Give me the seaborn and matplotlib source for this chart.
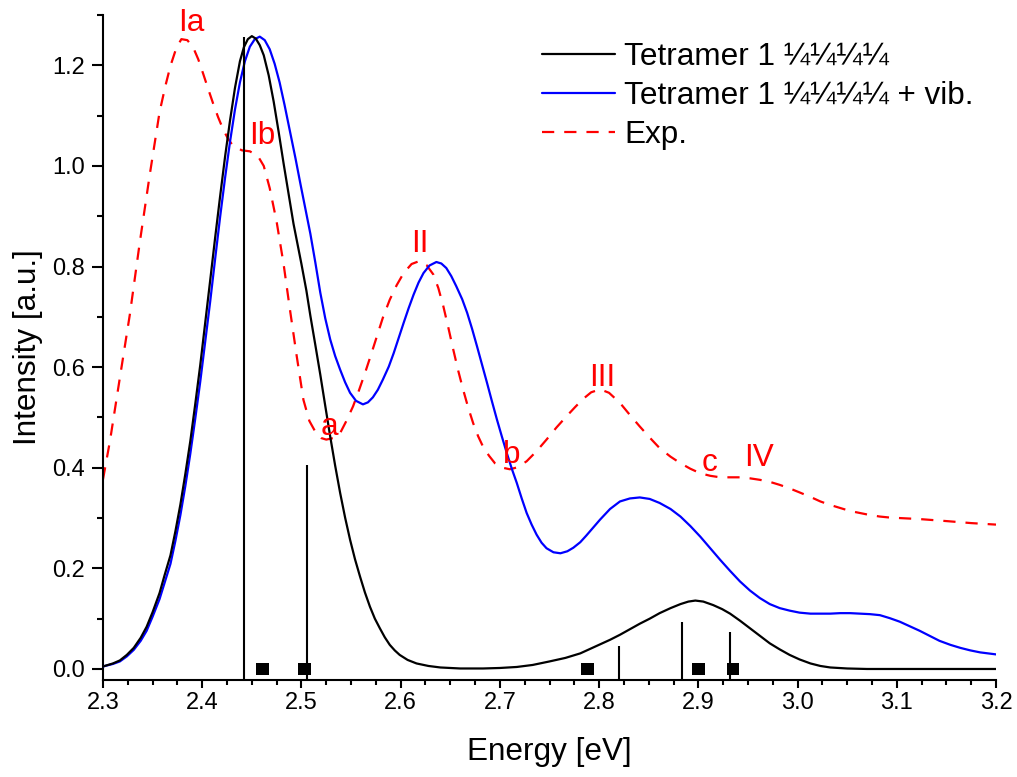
import matplotlib
matplotlib.use("Agg")
import matplotlib.pyplot as plt
import seaborn as sns
import pandas as pd
from matplotlib.ticker import MultipleLocator, FormatStrFormatter

# ---------------- data ----------------
calc_x = [2.300, 2.310, 2.317, 2.324, 2.331, 2.338, 2.344, 2.350, 2.357, 2.362,
          2.368, 2.373, 2.378, 2.383, 2.388, 2.393, 2.398, 2.403, 2.408, 2.413,
          2.418, 2.423, 2.428, 2.433, 2.438, 2.442, 2.446, 2.450, 2.454, 2.458,
          2.462, 2.467, 2.472, 2.477, 2.482, 2.487, 2.492, 2.496, 2.500, 2.505,
          2.509, 2.514, 2.519, 2.524, 2.529, 2.534, 2.539, 2.544, 2.549, 2.554,
          2.559, 2.564, 2.569, 2.574, 2.579, 2.584, 2.589, 2.594, 2.599, 2.607,
          2.616, 2.628, 2.640, 2.660, 2.683, 2.700, 2.717, 2.733, 2.750, 2.766,
          2.781, 2.791, 2.801, 2.811, 2.821, 2.831, 2.841, 2.851, 2.861, 2.872,
          2.882, 2.890, 2.897, 2.905, 2.915, 2.924, 2.932, 2.942, 2.952, 2.962,
          2.972, 2.982, 2.992, 3.002, 3.013, 3.023, 3.033, 3.050, 3.070, 3.100,
          3.200]
calc_y = [0.005, 0.011, 0.017, 0.028, 0.042, 0.062, 0.084, 0.113, 0.151, 0.186,
          0.226, 0.274, 0.327, 0.388, 0.453, 0.527, 0.604, 0.688, 0.772, 0.857,
          0.939, 1.018, 1.090, 1.155, 1.208, 1.236, 1.252, 1.258, 1.253, 1.240,
          1.220, 1.180, 1.128, 1.068, 1.005, 0.945, 0.885, 0.845, 0.805, 0.752,
          0.702, 0.644, 0.585, 0.523, 0.462, 0.404, 0.350, 0.301, 0.257, 0.218,
          0.184, 0.152, 0.124, 0.100, 0.081, 0.063, 0.048, 0.037, 0.028, 0.018,
          0.011, 0.006, 0.003, 0.001, 0.001, 0.002, 0.004, 0.008, 0.015, 0.022,
          0.031, 0.040, 0.049, 0.058, 0.068, 0.079, 0.090, 0.100, 0.111, 0.121,
          0.129, 0.134, 0.136, 0.134, 0.127, 0.119, 0.110, 0.096, 0.081, 0.066,
          0.051, 0.039, 0.028, 0.019, 0.011, 0.006, 0.003, 0.001, 0.000, 0.000,
          0.000]

vib_x = [2.300, 2.310, 2.317, 2.324, 2.331, 2.338, 2.344, 2.350, 2.357, 2.362,
         2.368, 2.373, 2.378, 2.383, 2.388, 2.393, 2.398, 2.403, 2.408, 2.413,
         2.418, 2.423, 2.428, 2.433, 2.438, 2.443, 2.448, 2.453, 2.458, 2.463,
         2.468, 2.473, 2.478, 2.483, 2.488, 2.494, 2.499, 2.504, 2.509, 2.514,
         2.519, 2.524, 2.529, 2.534, 2.539, 2.544, 2.549, 2.555, 2.562, 2.567,
         2.572, 2.577, 2.582, 2.588, 2.593, 2.598, 2.603, 2.608, 2.613, 2.618,
         2.623, 2.629, 2.636, 2.641, 2.646, 2.651, 2.656, 2.662, 2.667, 2.672,
         2.677, 2.682, 2.687, 2.692, 2.697, 2.702, 2.707, 2.712, 2.717, 2.722,
         2.727, 2.732, 2.737, 2.742, 2.747, 2.754, 2.761, 2.768, 2.774, 2.781,
         2.787, 2.794, 2.801, 2.811, 2.821, 2.831, 2.841, 2.851, 2.861, 2.872,
         2.882, 2.892, 2.902, 2.912, 2.922, 2.932, 2.942, 2.952, 2.962, 2.972,
         2.982, 2.992, 3.002, 3.013, 3.023, 3.033, 3.043, 3.053, 3.063, 3.073,
         3.083, 3.093, 3.103, 3.113, 3.123, 3.133, 3.143, 3.154, 3.164, 3.174,
         3.184, 3.192, 3.200]
vib_y = [0.005, 0.010, 0.015, 0.025, 0.038, 0.056, 0.076, 0.104, 0.139, 0.171,
         0.209, 0.255, 0.306, 0.364, 0.428, 0.498, 0.571, 0.650, 0.730, 0.815,
         0.898, 0.976, 1.048, 1.112, 1.166, 1.208, 1.237, 1.252, 1.257, 1.250,
         1.232, 1.203, 1.166, 1.121, 1.073, 1.015, 0.964, 0.915, 0.865, 0.808,
         0.748, 0.697, 0.655, 0.622, 0.595, 0.570, 0.549, 0.533, 0.526, 0.530,
         0.540, 0.555, 0.575, 0.601, 0.628, 0.658, 0.688, 0.717, 0.744, 0.768,
         0.787, 0.802, 0.809, 0.806, 0.797, 0.781, 0.761, 0.735, 0.708, 0.676,
         0.641, 0.605, 0.569, 0.532, 0.496, 0.462, 0.429, 0.398, 0.370, 0.339,
         0.310, 0.287, 0.267, 0.251, 0.240, 0.232, 0.230, 0.234, 0.241, 0.252,
         0.265, 0.281, 0.297, 0.318, 0.333, 0.339, 0.341, 0.338, 0.330, 0.318,
         0.303, 0.284, 0.263, 0.240, 0.217, 0.195, 0.174, 0.156, 0.141, 0.129,
         0.121, 0.116, 0.112, 0.110, 0.110, 0.110, 0.111, 0.111, 0.110, 0.109,
         0.107, 0.101, 0.094, 0.085, 0.076, 0.066, 0.056, 0.048, 0.042, 0.037,
         0.033, 0.031, 0.029]

exp_x = [2.300, 2.307, 2.317, 2.327, 2.337, 2.347, 2.357, 2.363, 2.368, 2.374,
         2.379, 2.385, 2.391, 2.396, 2.401, 2.406, 2.411, 2.416, 2.421, 2.426,
         2.431, 2.440, 2.448, 2.456, 2.462, 2.468, 2.475, 2.482, 2.488, 2.495,
         2.502, 2.508, 2.515, 2.520, 2.525, 2.532, 2.539, 2.545, 2.552, 2.558,
         2.564, 2.570, 2.576, 2.582, 2.589, 2.596, 2.603, 2.611, 2.619, 2.626,
         2.633, 2.638, 2.643, 2.648, 2.653, 2.658, 2.663, 2.668, 2.673, 2.678,
         2.683, 2.689, 2.695, 2.703, 2.710, 2.718, 2.727, 2.737, 2.747, 2.757,
         2.767, 2.776, 2.784, 2.792, 2.801, 2.810, 2.821, 2.831, 2.841, 2.851,
         2.861, 2.872, 2.882, 2.892, 2.902, 2.912, 2.922, 2.932, 2.942, 2.952,
         2.962, 2.972, 2.982, 2.992, 3.002, 3.013, 3.023, 3.033, 3.043, 3.053,
         3.063, 3.073, 3.083, 3.093, 3.103, 3.123, 3.150, 3.175, 3.200]
exp_y = [0.377, 0.453, 0.579, 0.704, 0.847, 0.981, 1.107, 1.160, 1.199, 1.235,
         1.252, 1.250, 1.235, 1.212, 1.183, 1.153, 1.124, 1.097, 1.073, 1.054,
         1.040, 1.031, 1.029, 1.020, 1.000, 0.956, 0.889, 0.805, 0.720, 0.625,
         0.535, 0.493, 0.468, 0.459, 0.456, 0.459, 0.469, 0.492, 0.522, 0.554,
         0.588, 0.624, 0.661, 0.698, 0.734, 0.763, 0.787, 0.805, 0.811, 0.803,
         0.784, 0.757, 0.721, 0.679, 0.635, 0.593, 0.555, 0.520, 0.489, 0.463,
         0.442, 0.424, 0.409, 0.400, 0.397, 0.401, 0.413, 0.433, 0.456, 0.480,
         0.502, 0.521, 0.537, 0.550, 0.556, 0.549, 0.529, 0.505, 0.482, 0.460,
         0.439, 0.422, 0.409, 0.398, 0.389, 0.384, 0.381, 0.381, 0.381, 0.379,
         0.376, 0.372, 0.366, 0.359, 0.351, 0.342, 0.333, 0.326, 0.320, 0.314,
         0.310, 0.306, 0.303, 0.301, 0.300, 0.298, 0.294, 0.290, 0.287]

stick_x = [2.442, 2.506, 2.820, 2.884, 2.932]
stick_h = [1.256, 0.406, 0.046, 0.094, 0.074]

square_x = [2.461, 2.503, 2.788, 2.900, 2.935]
square_y = [0.0, 0.0, 0.0, 0.0, 0.0]

labels = ["Ia", "Ib", "a", "II", "b", "III", "c", "IV"]
label_x = [2.389, 2.461, 2.528, 2.619, 2.712, 2.803, 2.911, 2.961]
label_y = [1.268, 1.043, 0.466, 0.828, 0.410, 0.562, 0.393, 0.403]

series_names = ["Tetramer 1 \u00bc\u00bc\u00bc\u00bc",
                "Tetramer 1 \u00bc\u00bc\u00bc\u00bc + vib.",
                "Exp."]

# ---------------- figure ----------------
sns.set_style("ticks")
plt.rcParams['font.family'] = ['Liberation Sans', 'DejaVu Sans']
plt.rcParams.update({
    'axes.linewidth': 1.5,
    'text.color': 'black',
    'axes.labelcolor': 'black',
    'axes.edgecolor': 'black',
    'xtick.color': 'black',
    'ytick.color': 'black',
})

fig = plt.figure(figsize=(10.17, 7.77), dpi=100)
ax = fig.add_axes([103 / 1017, 97 / 777, 893 / 1017, 665 / 777])

df_calc = pd.DataFrame({"Energy": calc_x, "Intensity": calc_y})
df_vib = pd.DataFrame({"Energy": vib_x, "Intensity": vib_y})
df_exp = pd.DataFrame({"Energy": exp_x, "Intensity": exp_y})

sns.lineplot(data=df_calc, x="Energy", y="Intensity", color="black", lw=1.6,
             sort=False, ax=ax, label=series_names[0], zorder=4)
sns.lineplot(data=df_vib, x="Energy", y="Intensity", color="#0000ff", lw=1.6,
             sort=False, ax=ax, label=series_names[1], zorder=3)
sns.lineplot(data=df_exp, x="Energy", y="Intensity", color="#ff0000", lw=1.6,
             sort=False, ax=ax, label=series_names[2], zorder=2, linestyle="--")
ax.lines[-1].set_dashes((5.5, 4.5))

ax.vlines(stick_x, -0.05, stick_h, color="black", lw=1.5, zorder=5)
sns.scatterplot(x=square_x, y=square_y, marker="s", s=85, color="black",
                edgecolor="none", ax=ax, zorder=6, legend=False)

for t, x, y in zip(labels, label_x, label_y):
    ax.text(x, y, t, color="#ff0000", fontsize=22.7, ha="center", va="baseline",
            clip_on=False, zorder=7)

ax.set_xlim(2.3, 3.2)
ax.set_ylim(-0.0219, 1.30)
ax.xaxis.set_major_locator(MultipleLocator(0.1))
ax.xaxis.set_minor_locator(MultipleLocator(0.025))
ax.yaxis.set_major_locator(MultipleLocator(0.2))
ax.yaxis.set_minor_locator(MultipleLocator(0.1))
ax.xaxis.set_major_formatter(FormatStrFormatter("%.1f"))
ax.yaxis.set_major_formatter(FormatStrFormatter("%.1f"))

ax.tick_params(axis="x", which="major", direction="out", length=5.5, width=1.5,
               pad=3, labelsize=17, colors="black")
ax.tick_params(axis="x", which="minor", direction="out", length=3.5, width=1.5,
               colors="black")
ax.tick_params(axis="y", which="major", direction="out", length=8, width=1.5,
               pad=5, labelsize=17, colors="black")
ax.tick_params(axis="y", which="minor", direction="out", length=4.5, width=1.5,
               colors="black")

sns.despine(ax=ax)
ax.spines["left"].set_bounds(-0.0219, 1.30)

ax.set_xlabel("Energy [eV]", fontsize=22.7, color="black")
ax.set_ylabel("Intensity [a.u.]", fontsize=22.7, color="black")
ax.xaxis.set_label_coords(0.5, -0.0857)
ax.yaxis.set_label_coords(-0.0675, 0.5)

leg = ax.legend(loc="upper left", bbox_to_anchor=(0.4916, 0.9595), frameon=False,
                fontsize=22.7, handlelength=2.3, handletextpad=0.3,
                labelspacing=0.28, borderpad=0, borderaxespad=0)
for txt in leg.get_texts():
    txt.set_color("black")

fig.savefig("out.png", dpi=100)
